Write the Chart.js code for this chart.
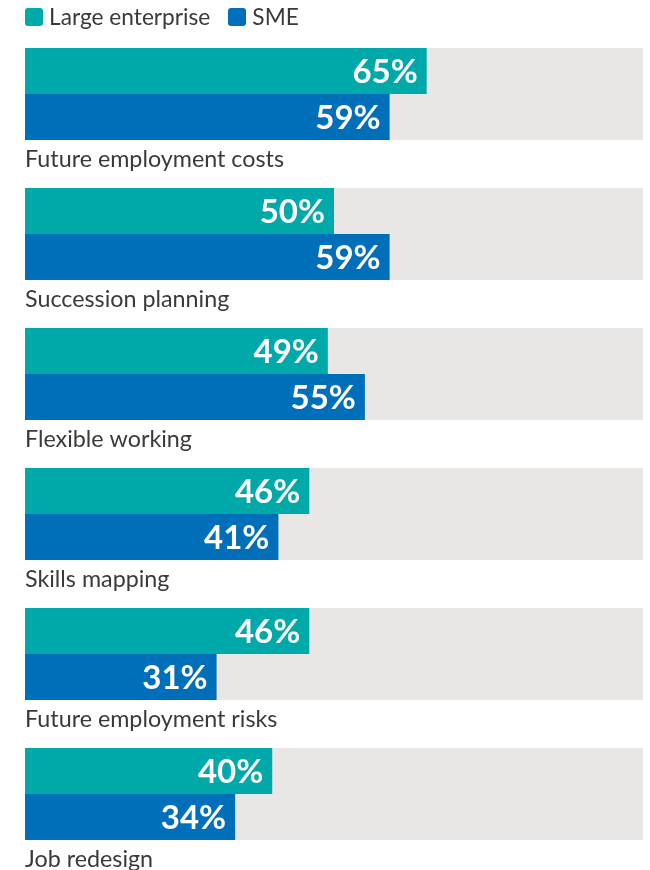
<!DOCTYPE html>
<html lang="en">
<head>
  <meta charset="UTF-8" />
  <title>Workforce planning priorities</title>
  <script src="https://cdn.jsdelivr.net/npm/chart.js"></script>
  <style>
    body {
      margin: 0;
      padding: 0;
      background: #fff;
      font-family: Lato, sans-serif;
      color: #3a3a3a;
    }

    .wrap {
      position: relative;
      width: 650px;
      height: 870px;
      overflow: hidden;
    }

    .legend {
      position: absolute;
      left: 25px;
      top: 4px;
      display: flex;
      align-items: center;
      font-size: 22.7px;
      line-height: 26px;
    }

    .legend span.box {
      display: inline-block;
      width: 18px;
      height: 18px;
      border-radius: 3px;
      margin-right: 6px;
    }

    .legend .item {
      display: flex;
      align-items: center;
      margin-right: 18px;
    }
  </style>
</head>
<body>
  <div class="wrap">
    <canvas id="chart" width="650" height="870"></canvas>
    <div class="legend" id="legend"></div>
  </div>

  <script>
    // Share of respondents per topic
    const categories = [
      "Future employment costs",
      "Succession planning",
      "Flexible working",
      "Skills mapping",
      "Future employment risks",
      "Job redesign"
    ];
    const seriesNames = ["Large enterprise", "SME"];
    const largeEnterprise = [65, 50, 49, 46, 46, 40];
    const sme = [59, 59, 55, 41, 31, 34];
    const fullScale = [100, 100, 100, 100, 100, 100];

    const colors = ["#00a9a9", "#006fba"];
    const trackColor = "#e8e7e6";

    // HTML legend
    const legend = document.getElementById("legend");
    seriesNames.forEach((name, i) => {
      const item = document.createElement("div");
      item.className = "item";
      const box = document.createElement("span");
      box.className = "box";
      box.style.background = colors[i];
      item.appendChild(box);
      item.appendChild(document.createTextNode(name));
      legend.appendChild(item);
    });

    // percentage inside the end of each bar + category name under each group
    const labelsPlugin = {
      id: "barLabels",
      afterDatasetsDraw(chart) {
        const ctx = chart.ctx;
        ctx.save();
        ctx.fillStyle = "#fff";
        ctx.textAlign = "right";
        ctx.textBaseline = "alphabetic";
        ctx.font = "bold 33px Lato, sans-serif";
        [0, 1].forEach(ds => {
          const meta = chart.getDatasetMeta(ds);
          meta.data.forEach((bar, i) => {
            const v = chart.data.datasets[ds].data[i];
            ctx.fillText(v + "%", bar.x - 9, bar.y + 12);
          });
        });

        ctx.fillStyle = "#3a3a3a";
        ctx.textAlign = "left";
        ctx.font = "23.3px Lato, sans-serif";
        const smeMeta = chart.getDatasetMeta(1);
        smeMeta.data.forEach((bar, i) => {
          const bottom = bar.y + bar.height / 2;
          ctx.fillText(categories[i], chart.chartArea.left, bottom + 27);
        });
        ctx.restore();
      }
    };

    new Chart(document.getElementById("chart"), {
      type: "bar",
      data: {
        labels: categories,
        datasets: [
          {
            label: seriesNames[0],
            data: largeEnterprise,
            backgroundColor: colors[0],
            order: 1
          },
          {
            label: seriesNames[1],
            data: sme,
            backgroundColor: colors[1],
            order: 1
          },
          {
            label: "track",
            data: fullScale,
            backgroundColor: trackColor,
            grouped: false,
            order: 2
          }
        ]
      },
      options: {
        indexAxis: "y",
        responsive: false,
        animation: false,
        events: [],
        layout: {
          padding: { left: 25, right: 7, top: 24, bottom: 6 }
        },
        datasets: {
          bar: {
            barPercentage: 1,
            categoryPercentage: 92 / 140,
            borderWidth: 0
          }
        },
        scales: {
          x: { display: false, min: 0, max: 100 },
          y: { display: false }
        },
        plugins: {
          legend: { display: false },
          tooltip: { enabled: false }
        }
      },
      plugins: [labelsPlugin]
    });
  </script>
</body>
</html>
